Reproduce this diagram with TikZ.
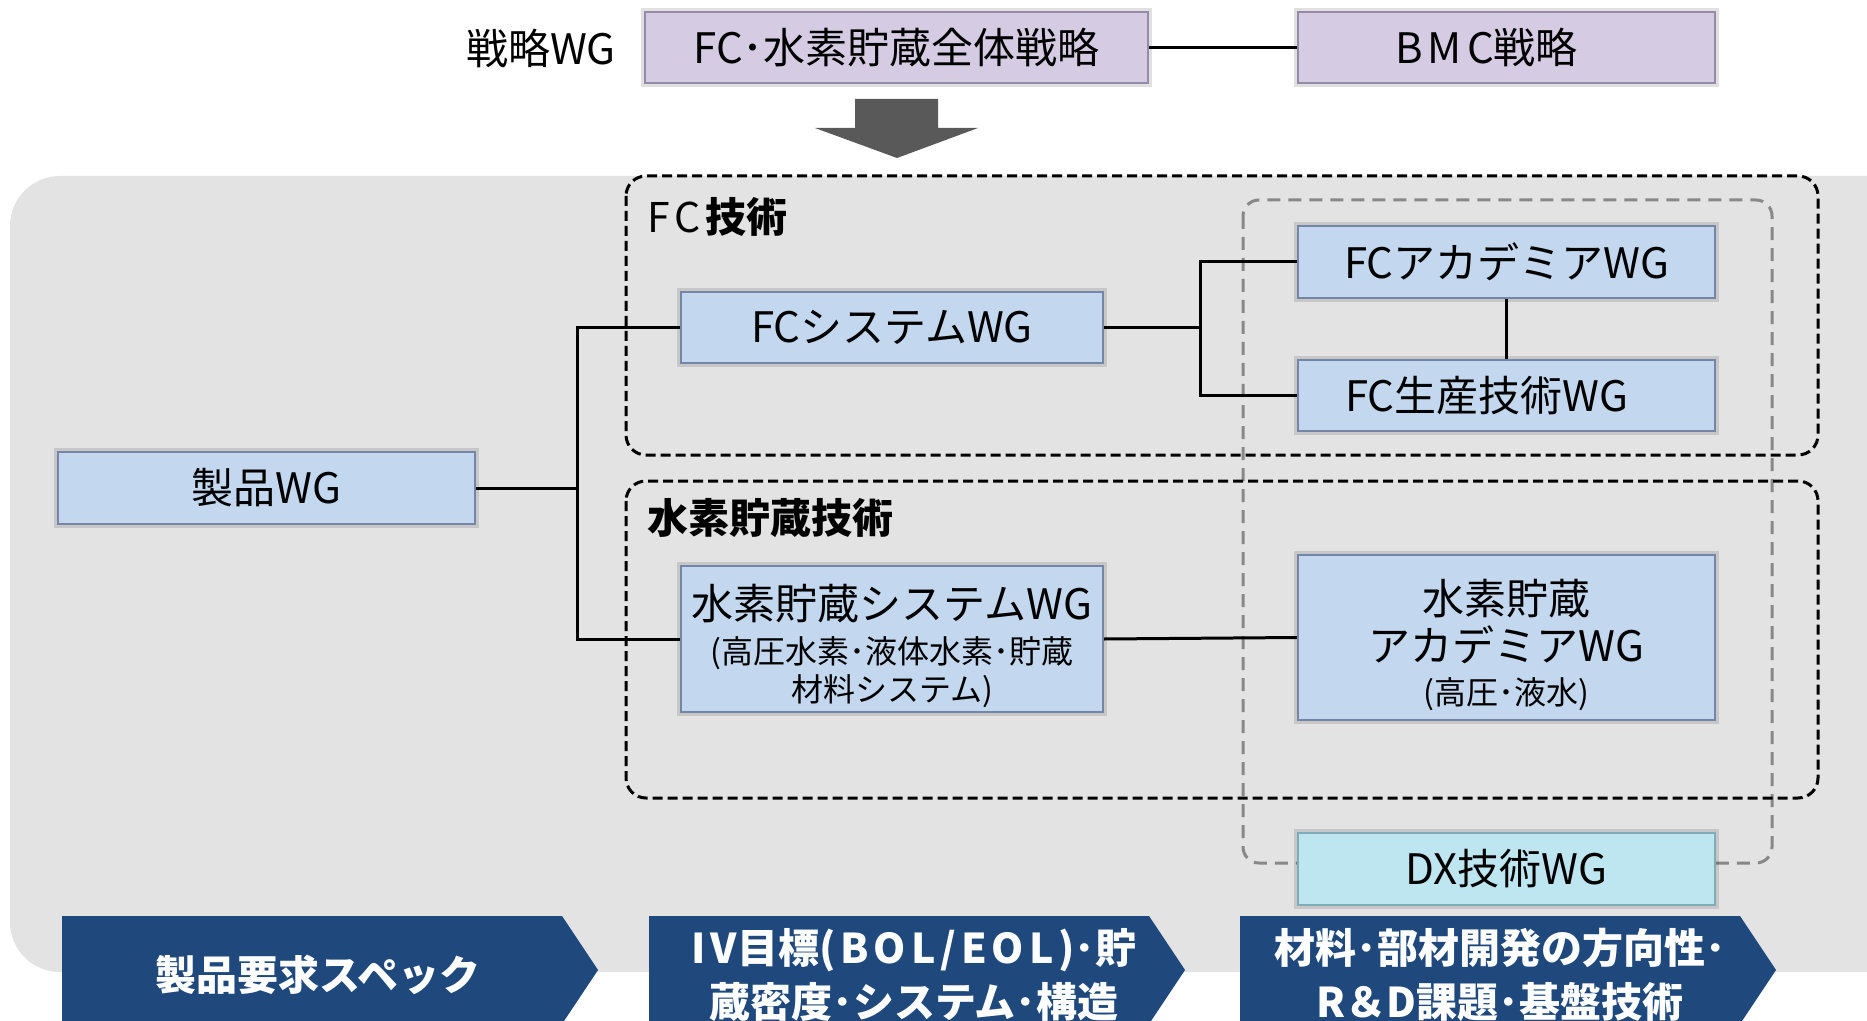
\documentclass[tikz,border=0pt]{standalone}
\usepackage{fontspec}
\setmainfont{Noto Sans CJK JP}
\usetikzlibrary{shadows}
\definecolor{bggray}{HTML}{E3E3E3}
\definecolor{purplefill}{HTML}{D5CCE3}
\definecolor{purpleline}{HTML}{958BA8}
\definecolor{bluefill}{HTML}{C3D7EE}
\definecolor{blueline}{HTML}{7585A6}
\definecolor{cyanfill}{HTML}{BEE6F0}
\definecolor{cyanline}{HTML}{80ABB8}
\definecolor{navyarrow}{HTML}{1F487C}
\definecolor{darkarrow}{HTML}{595959}
\definecolor{dashgray}{HTML}{888888}
\newcommand{\lsp}[1]{{\addfontfeature{LetterSpace=12}#1}}
\begin{document}
\begin{tikzpicture}[x=0.5pt,y=-0.5pt,
  wgbox/.style={rectangle, line width=1.1pt, inner sep=2pt, align=center,
    font=\fontsize{21}{25}\selectfont,
    preaction={draw=black, draw opacity=0.12, line width=3.6pt}},
  purplebox/.style={wgbox, fill=purplefill, draw=purpleline},
  bluebox/.style={wgbox, fill=bluefill, draw=blueline},
  cyanbox/.style={wgbox, fill=cyanfill, draw=cyanline},
  conn/.style={line width=1.5pt, black},
  blkdash/.style={line width=1.5pt, black, dash pattern=on 5pt off 2.5pt, rounded corners=10pt},
  graydash/.style={line width=1.5pt, dashgray, dash pattern=on 6.5pt off 4pt, rounded corners=8pt},
  grouplabel/.style={anchor=west, inner sep=0pt, font=\fontsize{20.5}{24}\selectfont},
  arrowtext/.style={text=white, align=center, inner sep=0pt, font=\fontsize{20.5}{27}\selectfont\bfseries}
]
\useasboundingbox (0,0) rectangle (1867,1021);
\fill[white] (0,0) rectangle (1867,1021);

% grey background panel
\fill[bggray, rounded corners=25pt] (10,176) rectangle (1930,972);

% strategy row
\node[inner sep=0pt, font=\fontsize{21}{25}\selectfont] (stratlabel) at (541,48) {戦略WG};
\node[purplebox, minimum width=251.5pt, minimum height=35.5pt] (strat) at (896.5,47.5) {FC･水素貯蔵全体戦略};
\node[purplebox, minimum width=208.5pt, minimum height=35.5pt] (bmc) at (1506.5,47.5) {\lsp{BMC}戦略\hspace*{20pt}};
\draw[conn] (strat.east) -- (bmc.west);

% big down arrow
\fill[darkarrow] (855,99) -- (938,99) -- (938,128) -- (978,128) -- (897,158) -- (815,128) -- (855,128) -- cycle;

% group frames
\draw[graydash] (1243,200) rectangle (1772,863);
\draw[blkdash] (626,176) rectangle (1818,455);
\draw[blkdash] (626,481) rectangle (1818,798);
\node[grouplabel] (fclabel) at (647,217) {\lsp{FC}\textbf{技術}};
\node[grouplabel] (h2label) at (647,518) {\textbf{水素貯蔵技術}};

% WG boxes
\node[bluebox, minimum width=208.5pt, minimum height=36pt] (prod) at (266.5,488) {製品WG};
\node[bluebox, minimum width=211pt, minimum height=35.5pt] (fcsys) at (892,327.5) {FCシステムWG};
\node[bluebox, minimum width=208.5pt, minimum height=36pt] (fcacad) at (1506.5,262) {FCアカデミアWG};
\node[bluebox, minimum width=208.5pt, minimum height=35.5pt] (fcprod) at (1506.5,395.5) {FC生産技術WG\hspace*{20pt}};
\node[bluebox, minimum width=211pt, minimum height=72pt, font=\fontsize{16}{19}\selectfont] (h2sys) at (892,639)
  {\rule{0pt}{25pt}{\fontsize{21}{25}\selectfont 水素貯蔵システムWG}\\[3pt](高圧水素･液体水素･貯蔵\\材料システム)};
\node[bluebox, minimum width=208.5pt, minimum height=82.5pt, font=\fontsize{21}{23.5}\selectfont] (h2acad) at (1506.5,637.5)
  {\rule{0pt}{25pt}水素貯蔵\\アカデミアWG\\[-2pt]{\fontsize{16}{17}\selectfont (高圧･液水)}};
\node[cyanbox, minimum width=208.5pt, minimum height=36pt] (dx) at (1506.5,869) {DX技術WG};

% connectors
\coordinate (j1) at (577,488);
\coordinate (j2) at (1200,327.5);
\draw[conn] (prod.east) -- (j1);
\draw[conn] (fcsys.west) -| (j1) |- (h2sys.west);
\draw[conn] (fcsys.east) -- (j2);
\draw[conn] (fcacad.west) -| (j2) |- (fcprod.west);
\draw[conn] (fcacad.south) -- (fcprod.north);
\draw[conn] (h2sys.east) -- (h2acad.west);

% bottom chevrons
\fill[navyarrow] (62,916) -- (562,916) -- (598,970) -- (562,1024) -- (62,1024) -- cycle;
\fill[navyarrow] (649,916) -- (1149,916) -- (1185,970) -- (1149,1024) -- (649,1024) -- cycle;
\fill[navyarrow] (1240,916) -- (1740,916) -- (1776,970) -- (1740,1024) -- (1240,1024) -- cycle;
\node[arrowtext] (spec) at (318,975) {製品要求スペック};
\node[arrowtext] (target) at (914,975) {\lsp{IV}目標\lsp{(BOL/EOL)}･貯\\蔵密度･システム･構造};
\node[arrowtext] (material) at (1500,975) {材料･部材開発の方向性･\\\lsp{R}＆\lsp{D}課題･基盤技術};
\end{tikzpicture}
\end{document}
